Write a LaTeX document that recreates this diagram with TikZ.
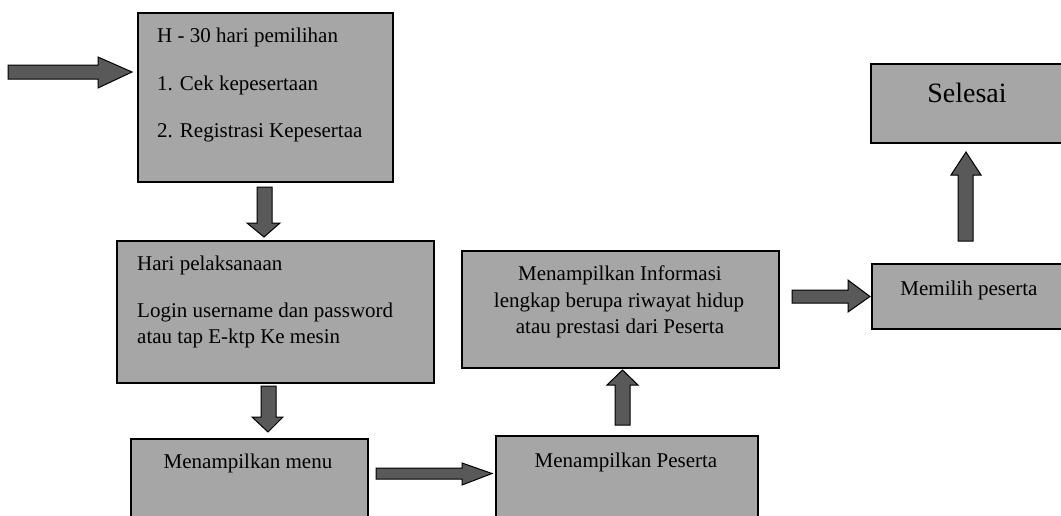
\documentclass[tikz,border=0pt]{standalone}
\usepackage{fontspec}
\setmainfont{Liberation Serif}
\definecolor{boxgray}{HTML}{A6A6A6}
\definecolor{arrowgray}{HTML}{595959}
\tikzset{
  box/.style={draw=black, line width=1.5pt, fill=boxgray, inner sep=0pt, anchor=north west},
  txt/.style={font=\fontsize{21}{27}\selectfont, inner sep=0pt},
  bigtxt/.style={font=\fontsize{28}{34}\selectfont, inner sep=0pt},
  barrow/.style={draw=black, line width=1pt, fill=arrowgray, line join=miter}
}
\begin{document}
\begin{tikzpicture}[x=1pt, y=-1pt]
\useasboundingbox (0,0) rectangle (1061,515);
\clip (0,0) rectangle (1061,515);
\fill[white] (0,0) rectangle (1061,515);
% boxes
\node[box, minimum width=255, minimum height=169] (b1) at (137,12) {};
\node[box, minimum width=317, minimum height=142] (b2) at (116,240) {};
\node[box, minimum width=237, minimum height=92] (b3) at (130,438) {};
\node[box, minimum width=262, minimum height=95] (b4) at (495,435) {};
\node[box, minimum width=317, minimum height=117] (b5) at (461,250) {};
\node[box, minimum width=204, minimum height=65] (b6) at (871,263) {};
\node[box, minimum width=205, minimum height=79] (b7) at (870,63) {};
% texts
\node[txt, anchor=base west] (t1a) at (157,42) {H - 30 hari pemilihan};
\node[txt, anchor=base west] (t1b) at (157,90) {1. Cek kepesertaan};
\node[txt, anchor=base west] (t1c) at (157,137) {2. Registrasi Kepesertaa};
\node[txt, anchor=base west] (t2a) at (137,270) {Hari pelaksanaan};
\node[txt, anchor=base west] (t2b) at (137,317) {Login username dan password};
\node[txt, anchor=base west] (t2c) at (137,343) {atau tap E-ktp Ke mesin};
\node[txt, anchor=base] (t3) at (248,468) {Menampilkan menu};
\node[txt, anchor=base] (t4) at (626,467) {Menampilkan Peserta};
\node[txt, anchor=base] (t5a) at (620,280) {Menampilkan Informasi};
\node[txt, anchor=base] (t5b) at (619,307) {lengkap berupa riwayat hidup};
\node[txt, anchor=base] (t5c) at (620,333) {atau prestasi dari Peserta};
\node[txt, anchor=base] (t6) at (969,295) {Memilih peserta};
\node[bigtxt, anchor=base] (t7) at (967,102) {Selesai};
% block arrows
% entry arrow
\draw[barrow] (8,65) -- (98,65) -- (98,57) -- (132,72) -- (98,88) -- (98,79) -- (8,79) -- cycle;
% b1 -> b2
\draw[barrow] (257,187) -- (272,187) -- (272,223) -- (280,223) -- (264,237) -- (247,223) -- (257,223) -- cycle;
% b2 -> b3
\draw[barrow] (261,386) -- (276,386) -- (276,417) -- (283,417) -- (268,432) -- (252,417) -- (261,417) -- cycle;
% b3 -> b4
\draw[barrow] (376,468) -- (462,468) -- (462,463) -- (492,473.5) -- (462,485) -- (462,479) -- (376,479) -- cycle;
% b4 -> b5
\draw[barrow] (615,425) -- (615,385) -- (607,385) -- (622.5,370) -- (638,385) -- (630,385) -- (630,425) -- cycle;
% b5 -> b6
\draw[barrow] (792,290) -- (848,290) -- (848,280) -- (870,296.5) -- (848,312) -- (848,303) -- (792,303) -- cycle;
% b6 -> b7
\draw[barrow] (958,241) -- (958,175) -- (951,175) -- (966,152) -- (981,175) -- (973,175) -- (973,241) -- cycle;
\end{tikzpicture}
\end{document}
